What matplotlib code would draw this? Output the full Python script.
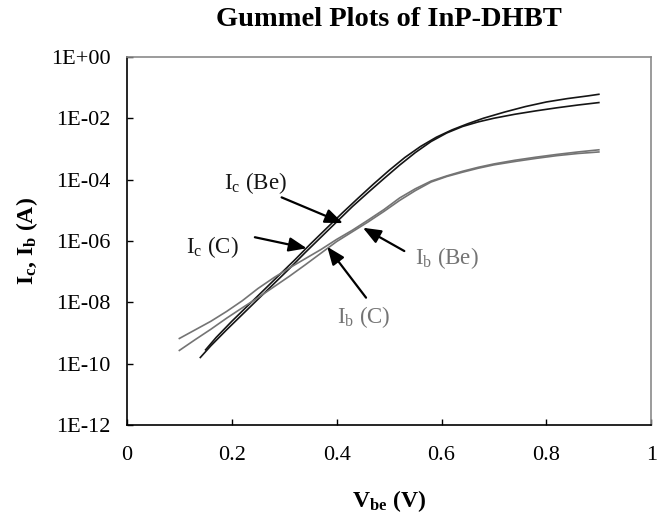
import numpy as np
import matplotlib
matplotlib.use("Agg")
import matplotlib.pyplot as plt

plt.rcParams['font.family'] = ['Liberation Serif', 'DejaVu Serif']
plt.rcParams['mathtext.fontset'] = 'custom'
plt.rcParams['mathtext.rm'] = 'Liberation Serif'
plt.rcParams['mathtext.it'] = 'Liberation Serif:italic'
plt.rcParams['mathtext.bf'] = 'Liberation Serif:bold'

# collector current, Be-doped base (log10 of A)
vbe_ic_be = [0.15, 0.17, 0.20, 0.23, 0.26, 0.29, 0.32, 0.35, 0.38, 0.41, 0.44, 0.47, 0.50,
             0.53, 0.56, 0.59, 0.62, 0.65, 0.68, 0.72, 0.76, 0.80, 0.84, 0.88, 0.90]
log_ic_be = [-9.55, -9.15, -8.62, -8.12, -7.62, -7.12, -6.62, -6.10, -5.60, -5.10, -4.62, -4.15, -3.70,
             -3.28, -2.92, -2.62, -2.38, -2.18, -2.00, -1.80, -1.62, -1.47, -1.36, -1.27, -1.22]

# collector current, C-doped base
vbe_ic_c = [0.14, 0.16, 0.19, 0.22, 0.25, 0.28, 0.31, 0.34, 0.37, 0.40, 0.43, 0.46, 0.49,
            0.52, 0.55, 0.58, 0.61, 0.64, 0.67, 0.70, 0.74, 0.78, 0.82, 0.86, 0.90]
log_ic_c = [-9.80, -9.42, -8.90, -8.40, -7.90, -7.40, -6.90, -6.38, -5.88, -5.38, -4.88, -4.42, -3.97,
            -3.53, -3.12, -2.76, -2.48, -2.27, -2.12, -2.00, -1.87, -1.76, -1.66, -1.57, -1.49]

# base current, C-doped base
vbe_ib_c = [0.10, 0.13, 0.16, 0.19, 0.22, 0.25, 0.28, 0.31, 0.34, 0.37, 0.40, 0.43, 0.46,
            0.49, 0.52, 0.55, 0.58, 0.61, 0.64, 0.67, 0.70, 0.74, 0.78, 0.82, 0.86, 0.90]
log_ib_c = [-9.18, -8.90, -8.62, -8.30, -7.95, -7.55, -7.20, -6.88, -6.58, -6.28, -5.95, -5.65, -5.32,
            -4.98, -4.60, -4.30, -4.05, -3.88, -3.73, -3.60, -3.49, -3.37, -3.27, -3.18, -3.10, -3.03]

# base current, Be-doped base
vbe_ib_be = [0.10, 0.13, 0.16, 0.19, 0.22, 0.25, 0.28, 0.31, 0.34, 0.37, 0.40, 0.43, 0.46,
             0.49, 0.52, 0.55, 0.58, 0.61, 0.64, 0.67, 0.70, 0.74, 0.78, 0.82, 0.86, 0.90]
log_ib_be = [-9.57, -9.22, -8.88, -8.52, -8.18, -7.85, -7.50, -7.15, -6.78, -6.40, -6.02, -5.70, -5.38,
             -5.04, -4.68, -4.36, -4.08, -3.90, -3.76, -3.63, -3.52, -3.41, -3.31, -3.22, -3.15, -3.10]

ytick_exp = [-12, -10, -8, -6, -4, -2, 0]
ytick_labels = ['1E-12', '1E-10', '1E-08', '1E-06', '1E-04', '1E-02', '1E+00']
xticks = [0, 0.2, 0.4, 0.6, 0.8, 1]
xtick_labels = ['0', '0.2', '0.4', '0.6', '0.8', '1']

black = '#151515'
gray = '#747474'

fig = plt.figure(figsize=(6.68, 5.17), dpi=100)
ax = fig.add_axes([0.190, 0.178, 0.785, 0.712])

ax.plot(vbe_ic_be, 10.0 ** np.array(log_ic_be), color=black, lw=1.2)
ax.plot(vbe_ic_c, 10.0 ** np.array(log_ic_c), color=black, lw=1.2)
ax.plot(vbe_ib_c, 10.0 ** np.array(log_ib_c), color=gray, lw=1.2)
ax.plot(vbe_ib_be, 10.0 ** np.array(log_ib_be), color=gray, lw=1.2)

ax.set_yscale('log')
ax.set_xlim(0, 1)
ax.set_ylim(1e-12, 1)
ax.set_yticks([10.0 ** e for e in ytick_exp])
ax.set_yticklabels(ytick_labels)
ax.minorticks_off()
ax.set_xticks(xticks)
ax.set_xticklabels(xtick_labels)
ax.tick_params(direction='in', length=4, width=1, labelsize=16, top=False, right=False)
ax.tick_params(axis='y', pad=12)
ax.tick_params(axis='x', pad=15)

for side in ['left', 'bottom']:
    ax.spines[side].set_color('black')
    ax.spines[side].set_linewidth(1.2)
for side in ['top', 'right']:
    ax.spines[side].set_color('#8a8a8a')
    ax.spines[side].set_linewidth(1.2)

ax.set_title('Gummel Plots of InP-DHBT', fontsize=20.5, fontweight='bold', pad=22)
ax.set_xlabel(r'$\mathbf{V_{be}}$ (V)', fontsize=17, fontweight='bold', labelpad=17)
ax.set_ylabel(r'$\mathbf{I_c}$, $\mathbf{I_b}$ (A)', fontsize=17, fontweight='bold', labelpad=8)

arrow = dict(arrowstyle='-|>,head_length=0.9,head_width=0.36', mutation_scale=12,
             color='black', lw=1.6, shrinkA=0, shrinkB=0)

# labels: (text, text position, arrow tail, arrow tip, colour)
notes = [
    (r'I$_\mathrm{c}$ (Be)', (0.246, -4.11), (0.295, -4.58), (0.412, -5.42), black),
    (r'I$_\mathrm{c}$ (C)', (0.162, -6.20), (0.244, -5.88), (0.343, -6.24), black),
    (r'I$_\mathrm{b}$ (Be)', (0.611, -6.55), (0.529, -6.33), (0.450, -5.57), gray),
    (r'I$_\mathrm{b}$ (C)', (0.452, -8.48), (0.456, -7.85), (0.382, -6.19), gray),
]
for txt, tpos, tail, tip, col in notes:
    ax.text(tpos[0], 10.0 ** tpos[1], txt, fontsize=16.5, color=col, ha='center', va='center')
    ax.annotate('', xy=(tip[0], 10.0 ** tip[1]), xytext=(tail[0], 10.0 ** tail[1]),
                arrowprops=arrow)

fig.savefig('out.png', dpi=100)
